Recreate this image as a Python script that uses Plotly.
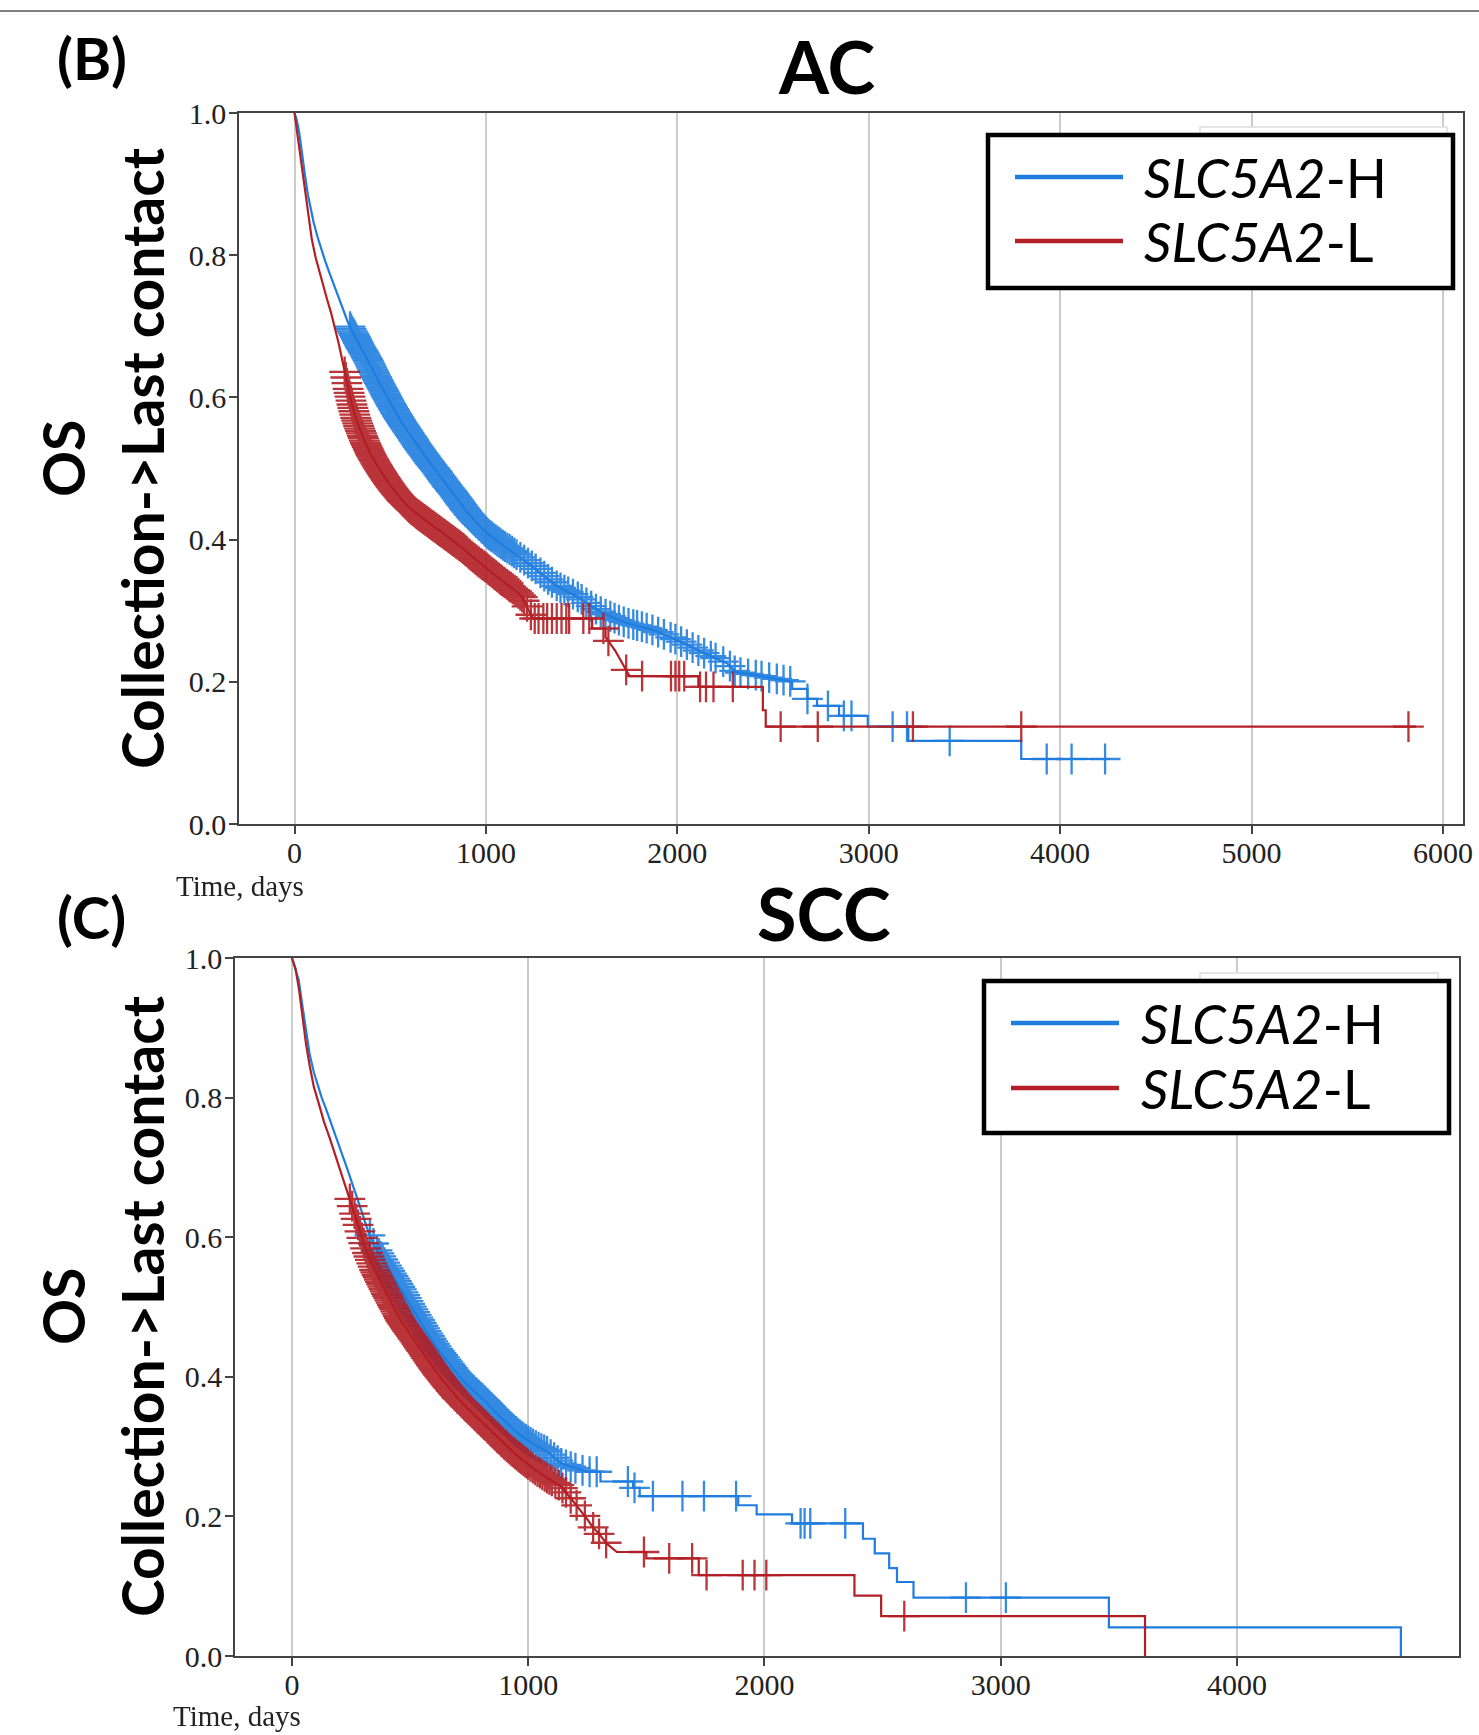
import numpy as np
import plotly.graph_objects as go

# ---------------- data ----------------
panel_titles = ["AC", "SCC"]
panel_labels = ["(B)", "(C)"]
group_names = ["<i>SLC5A2</i>-H", "<i>SLC5A2</i>-L"]
y_title_lines = ["OS", "Collection->Last contact"]
x_title = "Time, days"

x_ticks_ac = [0, 1000, 2000, 3000, 4000, 5000, 6000]
x_ticks_scc = [0, 1000, 2000, 3000, 4000]
y_ticks = [0.0, 0.2, 0.4, 0.6, 0.8, 1.0]

# Kaplan-Meier curves as drawn vertices: (time in days, survival probability)
ac_h_curve = [
    (0, 1.0), (12, 0.99), (25, 0.972), (40, 0.94), (55, 0.912), (70, 0.885), (85, 0.864),
    (100, 0.846), (120, 0.826), (140, 0.808), (160, 0.792), (180, 0.777), (200, 0.762),
    (220, 0.747), (240, 0.732), (260, 0.718), (280, 0.705), (300, 0.694), (320, 0.684),
    (340, 0.673), (360, 0.664), (385, 0.652), (410, 0.638), (440, 0.622), (470, 0.607),
    (500, 0.592), (530, 0.578), (560, 0.565), (590, 0.553), (620, 0.541), (650, 0.529),
    (680, 0.518), (710, 0.507), (740, 0.497), (770, 0.486), (800, 0.475), (830, 0.465),
    (860, 0.454), (890, 0.443), (920, 0.433), (950, 0.424), (980, 0.416), (1010, 0.408),
    (1050, 0.400), (1090, 0.392), (1130, 0.385), (1170, 0.377), (1210, 0.369), (1250, 0.361),
    (1290, 0.352), (1330, 0.343), (1370, 0.335), (1410, 0.329), (1450, 0.324), (1490, 0.318),
    (1530, 0.310), (1570, 0.303), (1610, 0.297), (1660, 0.291), (1710, 0.285), (1760, 0.281),
    (1810, 0.278), (1860, 0.274), (1910, 0.269), (1960, 0.263), (2010, 0.258), (2060, 0.251),
    (2110, 0.244), (2160, 0.238), (2210, 0.232), (2260, 0.226), (2305, 0.214), (2400, 0.210),
    (2500, 0.205), (2600, 0.200), (2600, 0.190), (2680, 0.190), (2680, 0.176), (2730, 0.176),
    (2730, 0.166), (2845, 0.166), (2845, 0.152), (2995, 0.152), (2995, 0.137), (3207, 0.137),
    (3207, 0.117), (3797, 0.117), (3797, 0.0914), (4260, 0.0914),
]
ac_l_curve = [
    (0, 1.0), (10, 0.98), (20, 0.962), (30, 0.94), (45, 0.91), (60, 0.878), (75, 0.85),
    (90, 0.823), (110, 0.797), (130, 0.776), (150, 0.757), (170, 0.738), (190, 0.72),
    (210, 0.70), (230, 0.677), (250, 0.652), (265, 0.632), (280, 0.612), (300, 0.590),
    (320, 0.571), (340, 0.556), (370, 0.536), (400, 0.519), (430, 0.505), (460, 0.492),
    (490, 0.480), (520, 0.469), (560, 0.456), (600, 0.445), (640, 0.436), (680, 0.428),
    (720, 0.420), (760, 0.412), (800, 0.404), (840, 0.396), (880, 0.388), (920, 0.378),
    (960, 0.369), (1000, 0.361), (1040, 0.352), (1080, 0.343), (1120, 0.335), (1160, 0.327),
    (1190, 0.319), (1210, 0.309), (1228, 0.298), (1245, 0.289), (1555, 0.289), (1555, 0.275),
    (1625, 0.275), (1625, 0.263), (1650, 0.254), (1675, 0.244), (1700, 0.232), (1725, 0.221),
    (1750, 0.208), (2110, 0.208), (2110, 0.193), (2447, 0.193), (2447, 0.160), (2462, 0.160),
    (2462, 0.137), (5860, 0.137),
]
scc_h_curve = [
    (0, 1.0), (15, 0.985), (29, 0.968), (45, 0.93), (61, 0.89), (75, 0.862), (93, 0.836),
    (110, 0.816), (126, 0.80), (145, 0.783), (160, 0.768), (175, 0.754), (195, 0.735),
    (215, 0.716), (235, 0.697), (255, 0.678), (275, 0.657), (295, 0.637), (315, 0.616),
    (335, 0.598), (355, 0.584), (375, 0.573), (395, 0.562), (415, 0.551), (440, 0.538),
    (465, 0.524), (490, 0.509), (515, 0.495), (540, 0.481), (565, 0.467), (590, 0.454),
    (615, 0.441), (640, 0.430), (665, 0.419), (690, 0.408), (715, 0.398), (740, 0.389),
    (770, 0.380), (800, 0.371), (830, 0.361), (860, 0.350), (890, 0.340), (920, 0.330),
    (950, 0.321), (980, 0.313), (1010, 0.306), (1040, 0.300), (1080, 0.293), (1110, 0.284),
    (1140, 0.276), (1200, 0.269), (1250, 0.264), (1306, 0.264), (1306, 0.250), (1444, 0.250),
    (1444, 0.241), (1472, 0.241), (1472, 0.229), (1889, 0.229), (1889, 0.216), (1967, 0.216),
    (1967, 0.203), (2117, 0.203), (2117, 0.190), (2417, 0.190), (2417, 0.168), (2467, 0.168),
    (2467, 0.147), (2528, 0.147), (2528, 0.126), (2561, 0.126), (2561, 0.106), (2631, 0.106),
    (2631, 0.0836), (3458, 0.0836), (3458, 0.0411), (4694, 0.0411), (4694, 0.0),
]
scc_l_curve = [
    (0, 1.0), (15, 0.985), (30, 0.955), (45, 0.915), (60, 0.876), (75, 0.846), (93, 0.815),
    (115, 0.79), (135, 0.766), (160, 0.742), (185, 0.716), (205, 0.696), (225, 0.675),
    (245, 0.655), (262, 0.637), (278, 0.620), (295, 0.600), (312, 0.584), (330, 0.569),
    (350, 0.553), (375, 0.536), (400, 0.519), (430, 0.500), (460, 0.481), (490, 0.466),
    (520, 0.452), (550, 0.437), (584, 0.420), (620, 0.403), (660, 0.386), (700, 0.370),
    (740, 0.356), (780, 0.343), (820, 0.330), (860, 0.316), (900, 0.303), (940, 0.291),
    (980, 0.280), (1028, 0.267), (1080, 0.255), (1139, 0.243), (1180, 0.226), (1222, 0.209),
    (1250, 0.196), (1270, 0.186), (1300, 0.175), (1333, 0.161), (1375, 0.149), (1500, 0.149),
    (1500, 0.140), (1722, 0.140), (1722, 0.116), (2381, 0.116), (2381, 0.0864), (2494, 0.0864),
    (2494, 0.057), (3611, 0.057), (3611, 0.0),
]

# censoring times (days)
ac_h_censor = [
    290, 296, 302, 308, 313, 318, 323, 328, 333, 338, 343, 348, 353, 358, 363, 368, 373, 378,
    383, 388, 393, 398, 403, 408, 413, 418, 423, 428, 433, 438, 443, 448, 453, 458, 463, 468,
    473, 478, 483, 488, 493, 498, 503, 508, 513, 518, 523, 528, 533, 538, 543, 548, 553, 558,
    563, 568, 573, 578, 583, 588, 593, 598, 604, 610, 616, 622, 628, 634, 640, 646, 652, 658,
    664, 670, 676, 682, 688, 694, 700, 706, 712, 718, 724, 730, 736, 742, 748, 754, 760, 766,
    772, 778, 784, 790, 796, 802, 808, 814, 820, 826, 832, 838, 844, 850, 856, 862, 868, 874,
    880, 887, 894, 901, 908, 915, 922, 929, 936, 943, 950, 958, 966, 974, 982, 990, 998, 1006,
    1014, 1022, 1030, 1040, 1050, 1060, 1070, 1080, 1090, 1100, 1112, 1124, 1136, 1148, 1160,
    1180, 1200, 1220, 1240, 1260, 1285, 1305, 1325, 1345, 1370, 1390, 1410, 1430, 1455, 1480,
    1500, 1525, 1550, 1575, 1600, 1625, 1650, 1672, 1695, 1720, 1745, 1770, 1790, 1815, 1840,
    1870, 1900, 1930, 1965, 1990, 2020, 2050, 2080, 2110, 2140, 2175, 2200, 2240, 2275, 2300,
    2330, 2370, 2410, 2440, 2480, 2520, 2555, 2590, 2680, 2787, 2870, 2910, 3125, 3200, 3423,
    3930, 4060, 4235,
]
ac_l_censor = [
    262, 268, 274, 280, 285, 290, 295, 300, 305, 310, 315, 320, 325, 330, 335, 340, 345, 350,
    355, 360, 365, 370, 375, 380, 385, 390, 395, 400, 405, 410, 415, 420, 425, 430, 435, 440,
    445, 450, 455, 460, 465, 470, 475, 480, 485, 490, 495, 500, 505, 510, 515, 520, 525, 530,
    535, 540, 545, 550, 555, 560, 565, 570, 575, 580, 585, 590, 595, 600, 606, 612, 618, 624,
    630, 636, 642, 648, 654, 660, 666, 672, 678, 684, 690, 696, 702, 708, 714, 720, 726, 732,
    738, 744, 750, 756, 762, 768, 774, 780, 786, 792, 798, 804, 810, 816, 822, 828, 834, 840,
    846, 852, 858, 864, 870, 876, 882, 888, 894, 900, 908, 916, 924, 932, 940, 948, 956, 964,
    972, 980, 988, 996, 1004, 1012, 1020, 1028, 1036, 1044, 1052, 1060, 1068, 1076, 1084,
    1092, 1100, 1110, 1120, 1130, 1140, 1150, 1160, 1170, 1180, 1190, 1200, 1215, 1235, 1255,
    1275, 1300, 1320, 1345, 1370, 1395, 1420, 1435, 1509, 1540, 1614, 1640, 1733, 1816, 1967,
    1990, 2010, 2036, 2119, 2150, 2189, 2290, 2540, 2734, 3231, 3797, 5820,
]
scc_h_censor = [
    330, 345, 360, 368, 376, 384, 392, 400, 407, 414, 421, 428, 435, 442, 449, 456, 463, 470,
    477, 484, 491, 498, 505, 512, 519, 526, 533, 540, 547, 554, 561, 568, 575, 582, 589, 596,
    603, 610, 617, 624, 631, 638, 645, 652, 659, 666, 673, 680, 687, 694, 701, 708, 715, 722,
    729, 736, 743, 750, 757, 764, 771, 778, 785, 792, 799, 806, 813, 820, 828, 836, 844, 852,
    860, 868, 876, 884, 892, 900, 908, 916, 924, 932, 940, 948, 956, 964, 972, 980, 990, 1000,
    1010, 1020, 1032, 1044, 1056, 1068, 1080, 1095, 1110, 1125, 1140, 1160, 1180, 1200, 1230,
    1260, 1290, 1422, 1450, 1528, 1653, 1744, 1880, 2153, 2170, 2194, 2342, 2853, 3022,
]
scc_l_censor = [
    245, 255, 265, 272, 280, 288, 296, 304, 312, 320, 326, 332, 338, 344, 350, 355, 360, 365,
    370, 375, 380, 385, 390, 395, 400, 405, 410, 415, 420, 425, 430, 435, 440, 445, 450, 455,
    460, 465, 470, 475, 480, 485, 490, 495, 500, 505, 510, 515, 520, 525, 530, 535, 540, 545,
    550, 555, 560, 565, 570, 575, 580, 585, 590, 595, 600, 605, 610, 615, 620, 625, 630, 635,
    640, 645, 650, 655, 660, 665, 670, 675, 680, 685, 690, 695, 700, 706, 712, 718, 724, 730,
    736, 742, 748, 754, 760, 766, 772, 778, 784, 790, 796, 802, 808, 814, 820, 826, 832, 838,
    844, 850, 856, 862, 868, 874, 880, 886, 892, 898, 904, 910, 916, 922, 928, 934, 940, 946,
    952, 958, 964, 970, 976, 982, 988, 994, 1000, 1010, 1020, 1030, 1040, 1050, 1060, 1070,
    1080, 1090, 1100, 1115, 1130, 1145, 1160, 1180, 1205, 1240, 1275, 1300, 1330, 1490, 1597,
    1694, 1755, 1908, 1958, 2008, 2592,
]

# ---------------- styling ----------------
W, H = 1479, 1735
BLUE = "#1f7ddf"
RED = "#b21f24"
colors = [BLUE, RED]


def px(x):
    return x / W


def py(y):
    return 1 - y / H


def on_curve(curve, t):
    """y of the drawn polyline at the given times (marks sit on the drawn curve)."""
    times = np.array([c[0] for c in curve], dtype=float)
    surv = np.array([c[1] for c in curve], dtype=float)
    return np.interp(t, times, surv)


fig = go.Figure()

panels = [
    dict(curves=[ac_h_curve, ac_l_curve], censors=[ac_h_censor, ac_l_censor], xa="x", ya="y"),
    dict(curves=[scc_h_curve, scc_l_curve], censors=[scc_h_censor, scc_l_censor], xa="x2", ya="y2"),
]

for p in panels:
    for curve, cens, col, name in zip(p["curves"], p["censors"], colors, group_names):
        fig.add_trace(go.Scatter(
            x=[c[0] for c in curve], y=[c[1] for c in curve],
            mode="lines", line=dict(color=col, width=2.2),
            name=name, xaxis=p["xa"], yaxis=p["ya"], showlegend=False, hoverinfo="skip",
        ))
        cens_arr = np.array(cens, dtype=float)
        fig.add_trace(go.Scatter(
            x=cens_arr, y=on_curve(curve, cens_arr),
            mode="markers",
            marker=dict(symbol="cross-thin", size=22, color=col,
                        line=dict(color=col, width=2.3)),
            opacity=0.9,
            name=name + " censored", xaxis=p["xa"], yaxis=p["ya"], showlegend=False,
            hoverinfo="skip",
        ))

tickfont = dict(family="Liberation Serif", size=30, color="#222")
common_x = dict(ticks="outside", ticklen=8, tickwidth=1.5, tickcolor="#444",
                showline=True, mirror=True, linecolor="#444", linewidth=1.6,
                showgrid=True, gridcolor="#cccccc", gridwidth=1.6, zeroline=False,
                tickfont=tickfont, automargin=False, ticklabelstandoff=-7)
common_y = dict(ticks="outside", ticklen=8, tickwidth=1.5, tickcolor="#444",
                showline=True, mirror=True, linecolor="#444", linewidth=1.6,
                showgrid=False, zeroline=False, tickfont=tickfont, automargin=False,
                ticklabelstandoff=-3,
                tickvals=y_ticks, tickformat=".1f", range=[0, 1])

fig.update_layout(
    width=W, height=H, margin=dict(l=0, r=0, t=0, b=0, pad=0), autosize=False,
    paper_bgcolor="white", plot_bgcolor="white", showlegend=False,
    xaxis=dict(domain=[px(239), px(1463)], range=[-290, 6105], tickvals=x_ticks_ac,
               anchor="y", **common_x),
    yaxis=dict(domain=[py(824), py(113)], anchor="x", **common_y),
    xaxis2=dict(domain=[px(235), px(1459)], range=[-241, 4940], tickvals=x_ticks_scc,
                anchor="y2", **common_x),
    yaxis2=dict(domain=[py(1656), py(958)], anchor="x2", **common_y),
)

bold_font = "Lato"
annotations = []
shapes = []

# top rule
shapes.append(dict(type="line", xref="paper", yref="paper", x0=0, x1=1, y0=py(11), y1=py(11),
                   line=dict(color="#555", width=1.5)))

panel_geo = [
    dict(label_xy=(92, 57), title_xy=(827, 66), ytitle_y=459, xtitle_xy=(174, 886),
         legend=(988, 135, 1453, 288), line_x=(1015, 1123), text_x=1142, rows=(177, 241),
         ghost=(1200, 127, 1447)),
    dict(label_xy=(91, 916), title_xy=(824, 913), ytitle_y=1307, xtitle_xy=(171, 1716),
         legend=(984, 981, 1449, 1133), line_x=(1011, 1119), text_x=1139, rows=(1023, 1088),
         ghost=(1200, 973, 1438)),
]

for i, g in enumerate(panel_geo):
    annotations.append(dict(text="<b>%s</b>" % panel_labels[i], x=px(g["label_xy"][0]),
                            y=py(g["label_xy"][1]), xref="paper", yref="paper",
                            showarrow=False, xanchor="center", yanchor="middle",
                            font=dict(family=bold_font, size=58, color="black")))
    annotations.append(dict(text="<b>%s</b>" % panel_titles[i], x=px(g["title_xy"][0]),
                            y=py(g["title_xy"][1]), xref="paper", yref="paper",
                            showarrow=False, xanchor="center", yanchor="middle",
                            font=dict(family=bold_font, size=72, color="black")))
    for xc, txt in zip([63, 142], y_title_lines):
        annotations.append(dict(text="<b>%s</b>" % txt, x=px(xc), y=py(g["ytitle_y"]),
                                xref="paper", yref="paper", showarrow=False, textangle=-90,
                                xanchor="center", yanchor="middle",
                                font=dict(family=bold_font, size=57, color="black")))
    annotations.append(dict(text=x_title, x=px(g["xtitle_xy"][0]), y=py(g["xtitle_xy"][1]),
                            xref="paper", yref="paper", showarrow=False, xanchor="left",
                            yanchor="middle",
                            font=dict(family="Liberation Serif", size=29, color="#222")))
    # faint remnant box of the original legend
    gx0, gy0, gx1 = g["ghost"]
    shapes.append(dict(type="rect", xref="paper", yref="paper", x0=px(gx0), x1=px(gx1),
                       y0=py(gy0 + 60), y1=py(gy0), line=dict(color="#dddddd", width=1.5),
                       fillcolor="white", layer="above"))
    # legend box
    lx0, ly0, lx1, ly1 = g["legend"]
    shapes.append(dict(type="rect", xref="paper", yref="paper", x0=px(lx0), x1=px(lx1),
                       y0=py(ly1), y1=py(ly0), line=dict(color="black", width=4.5),
                       fillcolor="white", layer="above"))
    for row_y, col, name in zip(g["rows"], colors, group_names):
        shapes.append(dict(type="line", xref="paper", yref="paper",
                           x0=px(g["line_x"][0]), x1=px(g["line_x"][1]),
                           y0=py(row_y), y1=py(row_y), line=dict(color=col, width=4.5),
                           layer="above"))
        annotations.append(dict(text=name, x=px(g["text_x"]), y=py(row_y), xref="paper",
                                yref="paper", showarrow=False, xanchor="left",
                                yanchor="middle",
                                font=dict(family="Lato", size=54, color="black")))

fig.update_layout(annotations=annotations, shapes=shapes)

fig.write_html("out.html", config={"displayModeBar": False},
               post_script="document.body.style.margin='0';")
